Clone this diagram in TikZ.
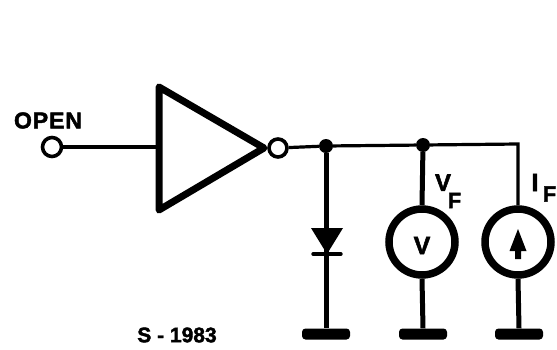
\documentclass[tikz,border=0pt]{standalone}
\usepackage{fontspec}
\setmainfont{Liberation Sans}
\newfontfamily\heavy[FakeBold=2]{Liberation Sans Bold}
\newfontfamily\heavyspaced[FakeBold=2,LetterSpace=4]{Liberation Sans Bold}
\tikzset{
  wirethin/.style={line width=3.2pt,black},
  wirethick/.style={line width=5pt,black},
  bubble/.style={circle,draw=black,line width=3.6pt,minimum size=19pt,inner sep=0pt,fill=white},
  meter/.style={circle,draw=black,line width=7.5pt,minimum size=66pt,inner sep=0pt},
  junction/.style={circle,fill=black,minimum size=14pt,inner sep=0pt},
  groundbar/.style={rounded corners=3.5pt,fill=black,minimum width=48pt,minimum height=11pt,inner sep=0pt},
  lbl/.style={inner sep=0pt,text=black},
}
\begin{document}
\begin{tikzpicture}[x=1pt,y=-1pt]
\useasboundingbox (0,0) rectangle (557,349);
% wires first, so that the symbols lie over their ends
\node[bubble] (open) at (52,147) {};
\node[bubble,minimum size=18pt] (out) at (278,148) {};
\node[junction] (j1) at (326,146) {};
\node[junction] (j2) at (423,145) {};
\coordinate (corner) at (518,144);
\coordinate (tin) at (159,147);
\node[meter] (vm) at (422,242) {};
\node[meter] (im) at (518,242) {};
\node[groundbar] (g1) at (326,334) {};
\node[groundbar] (g2) at (423,334) {};
\node[groundbar] (g3) at (519,334) {};
\draw[wirethin] (open) -- (tin);
\draw[wirethin] (out) -- (j1);
\draw[wirethin] (j1) -- (j2);
\draw[wirethin,line join=miter] (j2) -- (corner) -- (im.north);
\draw[wirethick] (j1) -- (g1);
\draw[wirethick] (j2) -- (vm.north);
\draw[wirethick] (vm.south) -- (g2.north);
\draw[wirethick] (im.south) -- (g3.north);
% inverter
\coordinate (ta) at (159,87);
\coordinate (tb) at (159,210);
\coordinate (tc) at (264,148);
\draw[black,line width=7pt,line join=round] (ta) -- (tb) -- (tc) -- cycle;
% diode
\coordinate (da) at (311,228);
\coordinate (db) at (343,228);
\coordinate (dc) at (327,254);
\coordinate (dl) at (313,254);
\coordinate (dr) at (341,254);
\fill[black] (da) -- (db) -- (dc) -- cycle;
\draw[black,line width=3.4pt,line cap=round] (dl) -- (dr);
% current arrow
\fill[black] (518,229) -- (526.5,251) -- (521,251) -- (521,259) -- (515,259) -- (515,251) -- (509.5,251) -- cycle;
% labels
\node[lbl,font=\heavyspaced\fontsize{23}{23}\selectfont] (topen) at (48,120.5) {OPEN};
\node[lbl,font=\heavy\fontsize{25}{25}\selectfont] (tv) at (422,245.5) {V};
\node[lbl,font=\heavy\fontsize{24}{24}\selectfont] (tvf) at (443,182.5) {V};
\node[lbl,font=\heavy\fontsize{22}{22}\selectfont] (tvf2) at (454.5,200.5) {F};
\node[lbl,font=\heavy\fontsize{25}{25}\selectfont] (tif) at (535,182.5) {I};
\node[lbl,font=\heavy\fontsize{22}{22}\selectfont] (tif2) at (549.5,194) {F};
\node[lbl,font=\heavy\fontsize{21}{21}\selectfont] (ts) at (177,335) {S - 1983};
\end{tikzpicture}
\end{document}
